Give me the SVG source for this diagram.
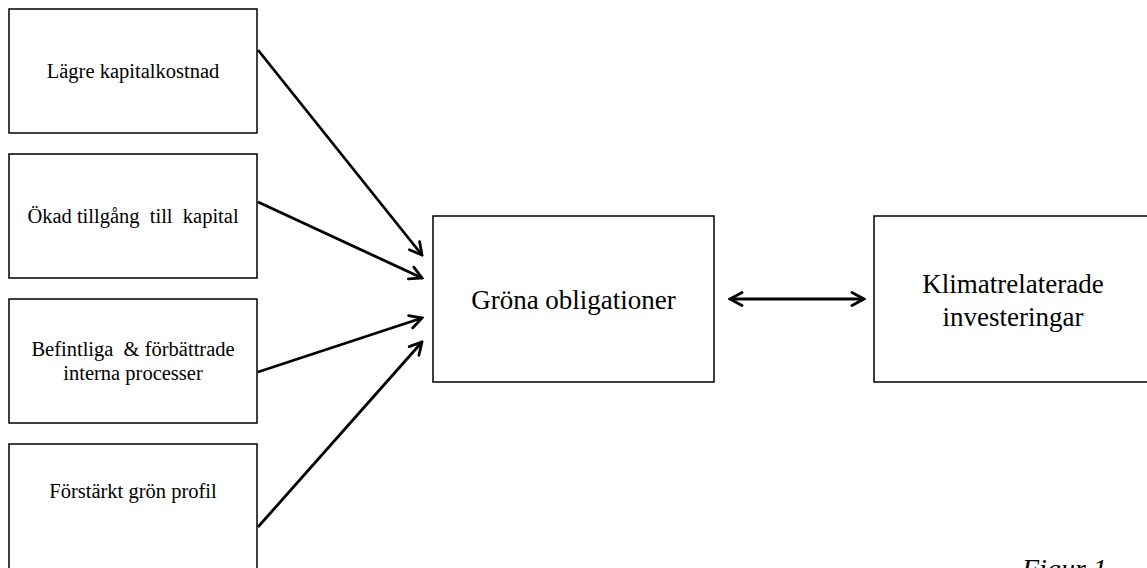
<svg xmlns="http://www.w3.org/2000/svg" width="1147" height="568" viewBox="0 0 1147 568">
  <style>
    .box { fill: #ffffff; stroke: #000000; stroke-width: 1.5; }
    .lbl { font-family: "Liberation Serif", "Times New Roman", serif; fill: #000000; text-anchor: middle; }
    .s { font-size: 20.5px; }
    .l { font-size: 27px; }
    .conn { stroke: #000000; stroke-width: 2.8; fill: none; }
  </style>
  <defs>
    <marker id="ah" markerUnits="userSpaceOnUse" viewBox="0 0 16 16" markerWidth="16" markerHeight="16" refX="14" refY="8" orient="auto-start-reverse">
      <path d="M2,1.5 L14,8 L2,14.5" fill="none" stroke="#000000" stroke-width="2.8" stroke-linecap="round" stroke-linejoin="miter"/>
    </marker>
  </defs>
  <rect x="0" y="0" width="1147" height="568" fill="#ffffff"/>

  <g id="n1">
    <rect class="box" x="9" y="9" width="248" height="124"/>
    <text class="lbl s" x="133" y="78">Lägre kapitalkostnad</text>
  </g>
  <g id="n2">
    <rect class="box" x="9" y="154" width="248" height="124"/>
    <text class="lbl s" x="133" y="223" xml:space="preserve">Ökad tillgång  till  kapital</text>
  </g>
  <g id="n3">
    <rect class="box" x="9" y="299" width="248" height="124"/>
    <text class="lbl s" x="133" y="356" xml:space="preserve">Befintliga  &amp; förbättrade</text>
    <text class="lbl s" x="133" y="380">interna processer</text>
  </g>
  <g id="n4">
    <rect class="box" x="9" y="444" width="248" height="140"/>
    <text class="lbl s" x="133" y="498">Förstärkt grön profil</text>
  </g>
  <g id="n5">
    <rect class="box" x="433" y="216" width="281" height="166"/>
    <text class="lbl l" x="573.5" y="309">Gröna obligationer</text>
  </g>
  <g id="n6">
    <rect class="box" x="874" y="216" width="290" height="166"/>
    <text class="lbl l" x="1013" y="293">Klimatrelaterade</text>
    <text class="lbl l" x="1013" y="326">investeringar</text>
  </g>

  <g id="connectors">
    <line class="conn" x1="258" y1="50" x2="422" y2="255" marker-end="url(#ah)"/>
    <line class="conn" x1="258" y1="202" x2="422" y2="278" marker-end="url(#ah)"/>
    <line class="conn" x1="258" y1="372" x2="422" y2="318" marker-end="url(#ah)"/>
    <line class="conn" x1="258" y1="527" x2="422" y2="342" marker-end="url(#ah)"/>
    <line class="conn" x1="730" y1="299" x2="864" y2="299" marker-start="url(#ah)" marker-end="url(#ah)"/>
  </g>

  <text x="1022" y="578" font-family="Liberation Serif, Times New Roman, serif" font-style="italic" font-size="28" fill="#000000">Figur 1</text>
</svg>
